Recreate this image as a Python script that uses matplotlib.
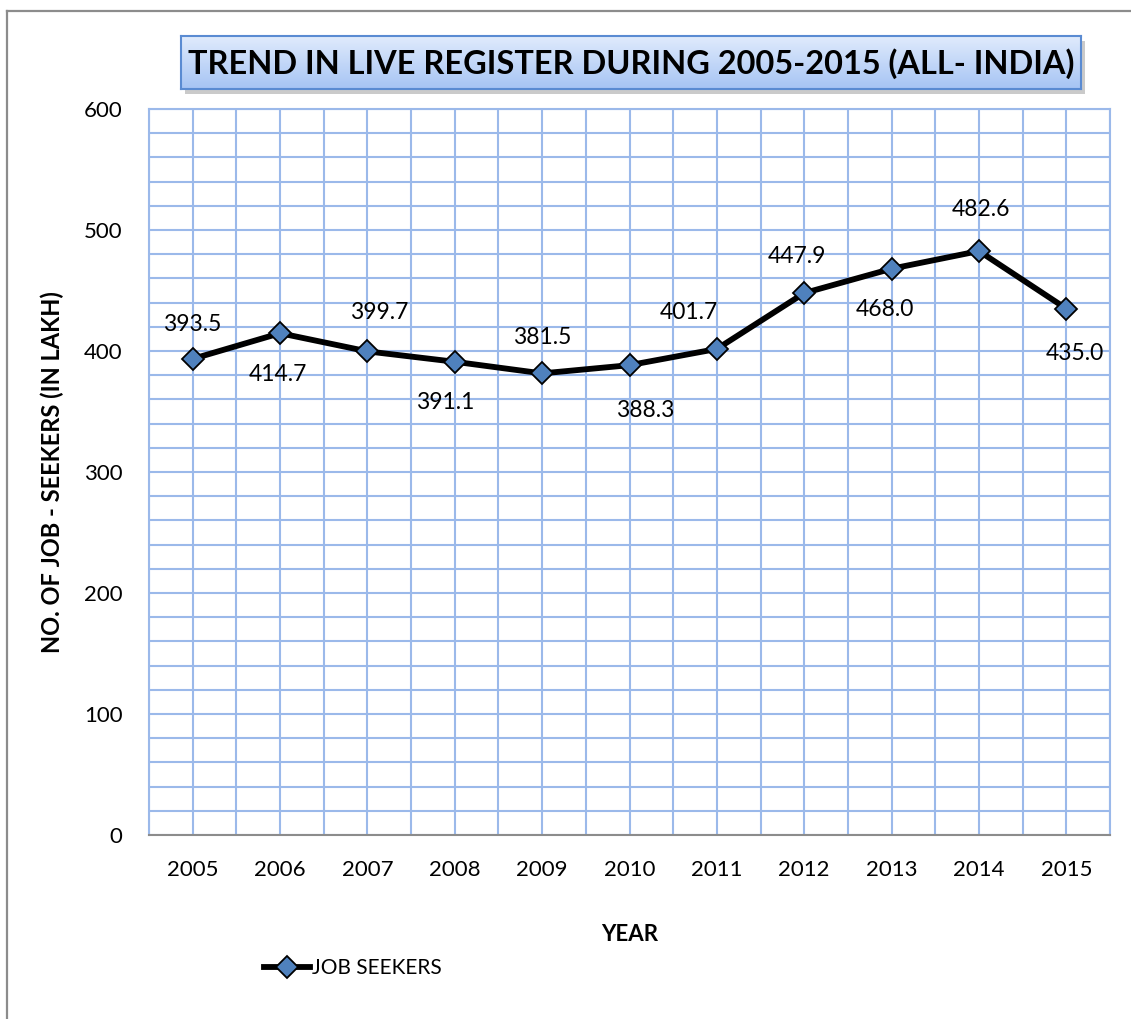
import numpy as np
import matplotlib as mpl
import matplotlib.pyplot as plt
from matplotlib.patches import Rectangle
mpl.use('Agg')

# data
years = ['2005', '2006', '2007', '2008', '2009', '2010', '2011', '2012', '2013', '2014', '2015']
job_seekers = [393.5, 414.7, 399.7, 391.1, 381.5, 388.3, 401.7, 447.9, 468.0, 482.6, 435.0]

# label offsets in points (dx, dy) - Excel put them alternately above / below
label_dx = [0, -1.5, 8.5, -7, 0, 11, -20, -5, -4.5, 1.5, 6]
label_dy = [25, -30, 28, -29.5, 26, -32.5, 26.5, 26.5, -29.5, 30, -32.5]

plt.rcParams['font.family'] = ['Lato', 'DejaVu Sans']

W, H = 1131, 1019
fig = plt.figure(figsize=(W / 100, H / 100), dpi=100)

# outer chart border (only top and left visible)
fig.add_artist(plt.Line2D([7 / W, 7 / W], [0, 1 - 11 / H], color='#8c8c8c', lw=1.6, transform=fig.transFigure))
fig.add_artist(plt.Line2D([7 / W, 1], [1 - 11 / H, 1 - 11 / H], color='#8c8c8c', lw=1.6, transform=fig.transFigure))

ax = fig.add_axes([149 / W, 1 - 835 / H, (1110 - 149) / W, (835 - 109) / H])
x = np.arange(len(years))

# grid: minor every 20 on y, every half category on x
ax.set_xlim(-0.5, len(years) - 0.5)
ax.set_ylim(0, 600)
ax.set_yticks(np.arange(0, 601, 100))
ax.set_yticks(np.arange(0, 601, 20), minor=True)
ax.set_xticks(x)
ax.set_xticks(np.arange(-0.5, len(years), 0.5), minor=True)
ax.set_xticklabels(years)
ax.grid(True, which='both', color='#9bb9ea', lw=1.5)
ax.set_axisbelow(True)
ax.tick_params(which='both', length=0)
ax.tick_params(axis='y', labelsize=16, pad=19)
ax.tick_params(axis='x', labelsize=16, pad=18)
for s in ['top', 'right', 'left']:
    ax.spines[s].set_color('#9bb9ea')
    ax.spines[s].set_linewidth(1.5)
ax.spines['bottom'].set_color('#8c8c8c')
ax.spines['bottom'].set_linewidth(1.5)

ax.plot(x, job_seekers, color='black', lw=4.2, marker='D', markersize=11,
        markerfacecolor='#4f81bd', markeredgecolor='black', markeredgewidth=1.3,
        label='JOB SEEKERS', zorder=3)

for i, v in enumerate(job_seekers):
    ax.annotate(f'{v:.1f}', (x[i], v), xytext=(label_dx[i], label_dy[i]),
                textcoords='offset points', ha='center', va='center', fontsize=16.5)

ax.set_xlabel('YEAR', fontsize=16, fontweight='bold', labelpad=32)
ax.set_ylabel('NO. OF JOB - SEEKERS (IN LAKH)', fontsize=17, fontweight='bold', labelpad=14)

leg = ax.legend(loc='center', bbox_to_anchor=(353 / W, 1 - 968 / H), bbox_transform=fig.transFigure,
                frameon=False, fontsize=15, handlelength=2.2, handletextpad=0.1, borderpad=0)

# title box with gradient and shadow
tx0, ty0, tx1, ty1 = 181, 36, 1081, 89
shadow = Rectangle(((tx0 + 4) / W, 1 - (ty1 + 5) / H), (tx1 - tx0) / W, (ty1 - ty0) / H,
                   transform=fig.transFigure, facecolor='#b4b4b4', edgecolor='none', alpha=0.7, zorder=4)
fig.add_artist(shadow)
tax = fig.add_axes([tx0 / W, 1 - ty1 / H, (tx1 - tx0) / W, (ty1 - ty0) / H])
tax.set_zorder(5)
grad = np.linspace(0, 1, 100).reshape(-1, 1)
cmap = mpl.colors.LinearSegmentedColormap.from_list('tb', ['#e0ebfc', '#a6c4f4'])
tax.imshow(grad, aspect='auto', cmap=cmap, extent=[0, 1, 0, 1], origin='upper')
tax.set_xticks([])
tax.set_yticks([])
for s in tax.spines.values():
    s.set_color('#5a8bd2')
    s.set_linewidth(1.5)
tax.text(0.5, 0.47, 'TREND IN LIVE REGISTER DURING 2005-2015 (ALL- INDIA)', ha='center', va='center',
         fontsize=23.4, fontweight='bold', color='black', transform=tax.transAxes)

fig.savefig('out.png', dpi=100)
